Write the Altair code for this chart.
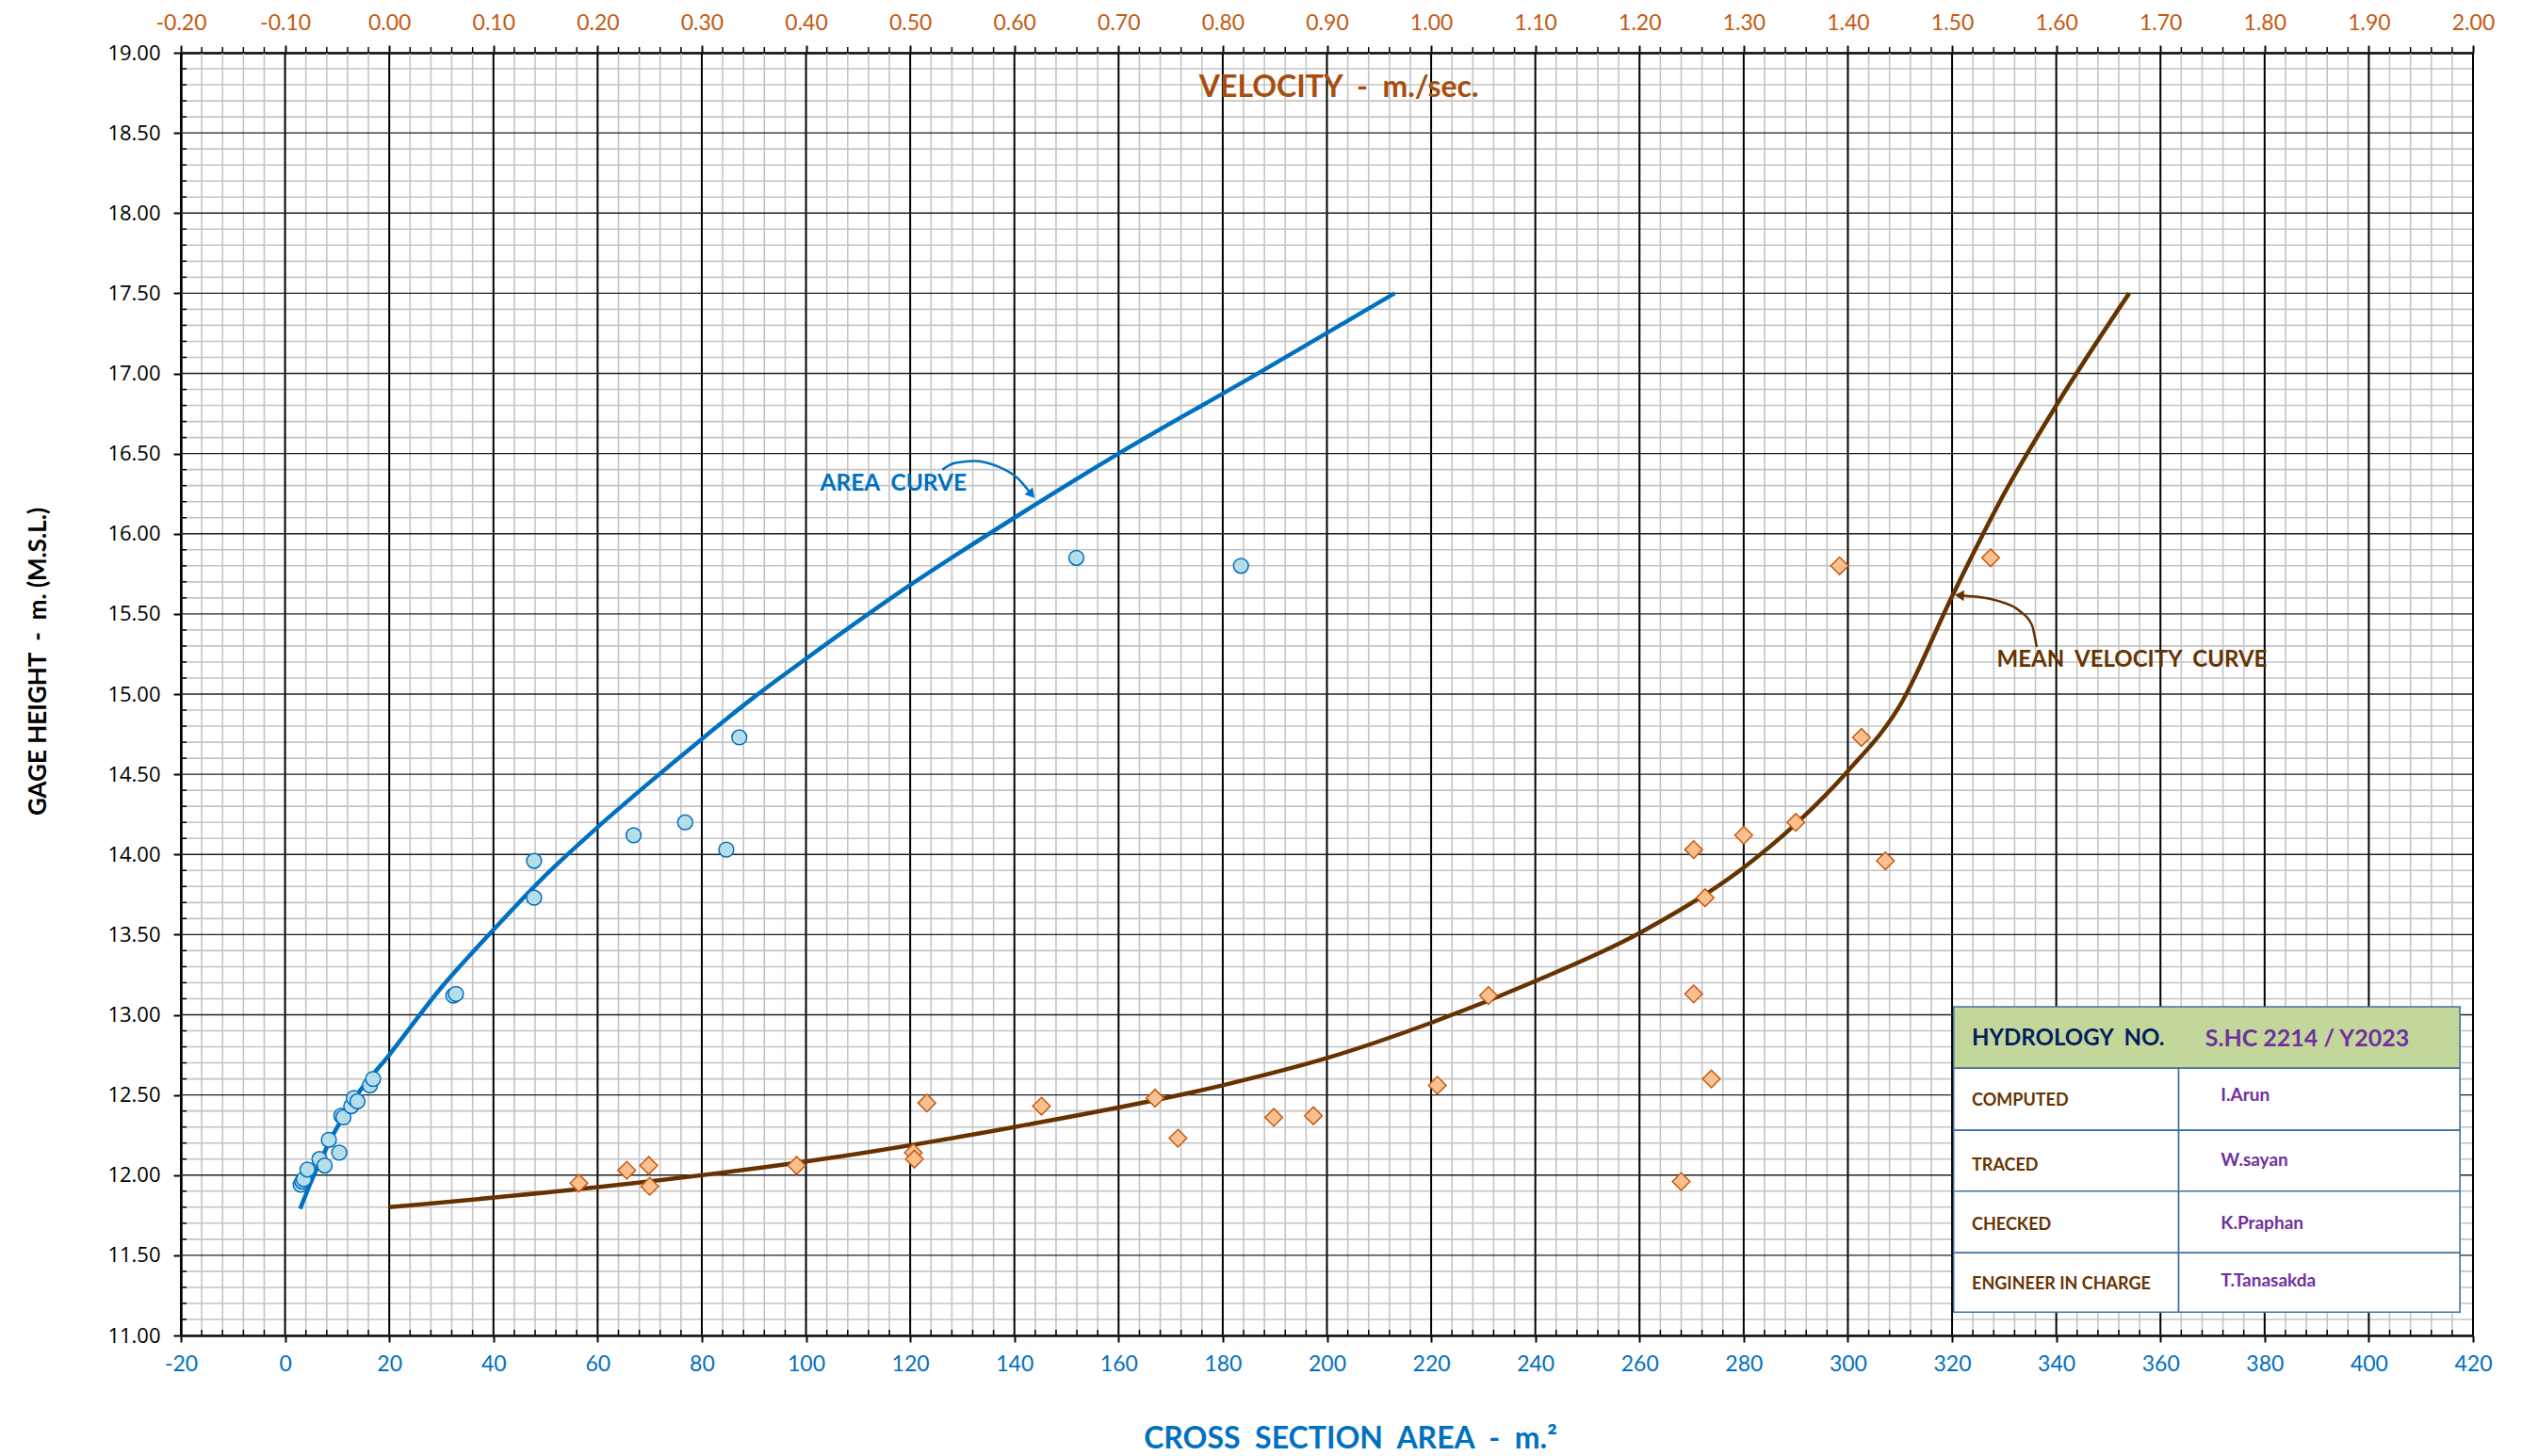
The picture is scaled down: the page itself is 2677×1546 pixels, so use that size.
import altair as alt
import pandas as pd

# ---------------- data ----------------
# Observed cross-section area (m^2) vs gage height (m)
AREA_OBS = [3.0, 3.3, 3.6, 4.3, 6.6, 7.6, 8.4, 10.4, 10.8, 11.2, 12.7, 13.2, 13.9,
            16.3, 16.9, 32.3, 32.8, 47.8, 47.8, 66.9, 76.8, 84.7, 87.2, 151.9, 183.5]
AREA_OBS_H = [11.94, 11.96, 11.975, 12.035, 12.10, 12.06, 12.22, 12.14, 12.37, 12.36, 12.43, 12.48, 12.46,
              12.56, 12.60, 13.12, 13.13, 13.73, 13.96, 14.12, 14.20, 14.03, 14.73, 15.85, 15.80]

# Observed mean velocity (m/s) vs gage height (m)
VEL_OBS = [0.182, 0.228, 0.249, 0.250, 0.391, 0.503, 0.504, 0.516, 0.626, 0.735, 0.757, 0.849, 0.887,
           1.006, 1.055, 1.240, 1.252, 1.252, 1.263, 1.269, 1.300, 1.350, 1.392, 1.413, 1.436, 1.537]
VEL_OBS_H = [11.95, 12.03, 12.06, 11.93, 12.06, 12.14, 12.10, 12.45, 12.43, 12.48, 12.23, 12.36, 12.37,
             12.56, 13.12, 11.96, 14.03, 13.13, 13.73, 12.60, 14.12, 14.20, 15.80, 14.73, 13.96, 15.85]

# Fitted area curve
AREA_CURVE = [2.9, 5.0, 8.4, 13.6, 20, 30, 40, 50, 60, 70, 80, 90, 100, 120, 140, 160, 185.7, 213]
AREA_CURVE_H = [11.79, 11.96, 12.20, 12.49, 12.75, 13.17, 13.53, 13.87, 14.17, 14.45, 14.72, 14.98,
                15.22, 15.68, 16.10, 16.50, 16.98, 17.50]

# Fitted mean velocity curve
VEL_CURVE = [0.0, 0.2, 0.4, 0.6, 0.8, 0.9, 1.0, 1.1, 1.2, 1.3, 1.35, 1.4, 1.45, 1.5, 1.55, 1.6, 1.67]
VEL_CURVE_H = [11.80, 11.925, 12.085, 12.30, 12.56, 12.73, 12.95, 13.21, 13.51, 13.918, 14.19, 14.52,
               14.93, 15.61, 16.25, 16.80, 17.50]

# Axis tick values
AREA_MAJOR = list(range(-20, 421, 20))
AREA_MINOR = list(range(-20, 421, 4))
VEL_TICKS = [round(-0.2 + 0.1 * i, 1) for i in range(23)]
HEIGHT_MAJOR = [round(11 + 0.5 * i, 1) for i in range(17)]
HEIGHT_MINOR = [round(11 + 0.1 * i, 1) for i in range(81)]

# Annotation arrows (in data units)
AREA_ARROW_A = [126.2, 128.5, 132.2, 136.8, 140.5, 143.3]
AREA_ARROW_H = [16.40, 16.44, 16.454, 16.42, 16.35, 16.245]
VEL_ARROW_V = [1.5812, 1.5766, 1.5646, 1.5436, 1.5225, 1.507]
VEL_ARROW_H = [15.294, 15.431, 15.52, 15.582, 15.608, 15.616]

# Title block
TABLE_X = [320.3, 363.5, 417.5]
TABLE_Y = [13.05, 12.667, 12.28, 11.90, 11.515, 11.145]
ROW_LABELS = ["COMPUTED", "TRACED", "CHECKED", "ENGINEER IN CHARGE"]
ROW_NAMES = ["I.Arun", "W.sayan", "K.Praphan", "T.Tanasakda"]
ROW_LABEL_H = [12.46, 12.06, 11.69, 11.32]
ROW_NAME_H = [12.50, 12.09, 11.70, 11.34]

# ---------------- styling ----------------
W, H = 2433, 1362
BLUE = "#0070c0"
BROWN = "#663300"
ORANGE_TXT = "#c55a11"
PURPLE = "#7030a0"
NAVY = "#002060"
CALIBRI = "Lato"
SP2 = "\u00a0 "  # a wide (double) gap that SVG does not collapse
HYPHEN_EXPR = "replace(datum.label, '\u2212', '-')"

XA = alt.Scale(domain=[-20, 420], nice=False, zero=False)
XV = alt.Scale(domain=[-0.2, 2.0], nice=False, zero=False)
YS = alt.Scale(domain=[11, 19], nice=False, zero=False)

Y_AXIS = alt.Axis(
    values=HEIGHT_MAJOR, format=".2f", grid=False,
    labelColor="black", labelFont="Open Sans", labelFontSize=22, labelPadding=14,
    labelFlush=False, labelOverlap=False,
    tickSize=8, tickColor="black", tickWidth=2,
    domainColor="black", domainWidth=2.5,
    title="GAGE HEIGHT" + SP2 + "-" + SP2 + "m. (M.S.L.)", titleFont=CALIBRI, titleFontSize=26,
    titleFontWeight="bold", titleColor="black", titleX=-152, titleY=646,
    titleAngle=270, titleAlign="center", titleBaseline="middle")


def xa(field="a"):
    return alt.X(f"{field}:Q", scale=XA, axis=None)


def xv(field="v"):
    return alt.X(f"{field}:Q", scale=XV, axis=None)


def yh(field="h"):
    return alt.Y(f"{field}:Q", scale=YS, axis=Y_AXIS)


# ---------------- grid ----------------
minor_a = pd.DataFrame({"a": [a for a in AREA_MINOR if a not in AREA_MAJOR]})
major_a = pd.DataFrame({"a": AREA_MAJOR})
minor_h = pd.DataFrame({"h": [h for h in HEIGHT_MINOR if h not in HEIGHT_MAJOR]})
major_h = pd.DataFrame({"h": HEIGHT_MAJOR})

g1 = alt.Chart(minor_a).mark_rule(color="#c4c4c4", strokeWidth=1.6).encode(x=xa())
g2 = alt.Chart(minor_h).mark_rule(color="#c4c4c4", strokeWidth=1.6).encode(y=yh())
g3 = alt.Chart(major_a).mark_rule(color="black", strokeWidth=2).encode(x=xa())
g4 = alt.Chart(major_h).mark_rule(color="#202020", strokeWidth=1.4).encode(y=yh())

# minor ticks
t_left = alt.Chart(minor_h).mark_rule(color="black", strokeWidth=1.5).encode(
    y=yh(), x=alt.value(0), x2=alt.value(6))
t_bottom = alt.Chart(minor_a).mark_rule(color="black", strokeWidth=1.5).encode(
    x=xa(), y=alt.value(H), y2=alt.value(H - 6))
t_top = alt.Chart(minor_a).mark_rule(color="black", strokeWidth=1.5).encode(
    x=xa(), y=alt.value(0), y2=alt.value(-6))

# ---------------- area curve + points ----------------
area_curve = alt.Chart(pd.DataFrame({"a": AREA_CURVE, "h": AREA_CURVE_H})).mark_line(
    color=BLUE, strokeWidth=4.5, interpolate="monotone").encode(x=xa(), y=yh())

area_pts = alt.Chart(pd.DataFrame({"a": AREA_OBS, "h": AREA_OBS_H})).mark_point(
    shape="circle", size=250, fill="#b7dee8", fillOpacity=1, stroke=BLUE, strokeWidth=1.5, opacity=1
).encode(
    x=alt.X("a:Q", scale=XA, axis=alt.Axis(
        orient="bottom", values=AREA_MAJOR, format="d", grid=False, labelExpr=HYPHEN_EXPR,
        labelColor=BLUE, labelFont=CALIBRI, labelFontSize=23, labelPadding=12,
        labelFlush=False, labelOverlap=False,
        tickSize=7, tickColor="black", tickWidth=2,
        domainColor="black", domainWidth=2.5,
        title="CROSS" + SP2 + "SECTION" + SP2 + "AREA" + SP2 + "-" + SP2 + "m.²",
        titleFont=CALIBRI, titleFontSize=32,
        titleFontWeight="bold", titleColor=BLUE, titleX=1241, titleY=119,
        titleAlign="center", titleBaseline="alphabetic")),
    y=yh(),
)

# ---------------- velocity curve + points ----------------
vel_curve = alt.Chart(pd.DataFrame({"v": VEL_CURVE, "h": VEL_CURVE_H})).mark_line(
    color=BROWN, strokeWidth=4.5, interpolate="monotone").encode(x=xv(), y=yh())

vel_pts = alt.Chart(pd.DataFrame({"v": VEL_OBS, "h": VEL_OBS_H})).mark_point(
    shape="diamond", size=350, fill="#fac090", fillOpacity=1, stroke="#c55a11", strokeWidth=1.5, opacity=1
).encode(
    x=alt.X("v:Q", scale=XV, title=None, axis=alt.Axis(
        orient="top", values=VEL_TICKS, format=".2f", grid=False, labelExpr=HYPHEN_EXPR,
        labelColor=ORANGE_TXT, labelFont=CALIBRI, labelFontSize=23, labelPadding=12,
        labelFlush=False, labelOverlap=False,
        tickSize=8, tickColor="black", tickWidth=2,
        domainColor="black", domainWidth=2.5)),
    y=yh(),
)

# ---------------- annotations ----------------
area_arrow = alt.Chart(pd.DataFrame({"a": AREA_ARROW_A, "h": AREA_ARROW_H})).mark_line(
    color=BLUE, strokeWidth=2.5, interpolate="monotone").encode(x=xa(), y=yh())
area_head = alt.Chart(pd.DataFrame({"a": [AREA_ARROW_A[-1]], "h": [AREA_ARROW_H[-1]]})).mark_point(
    shape="triangle-up", size=130, filled=True, color=BLUE, opacity=1, angle=140).encode(x=xa(), y=yh())
area_label = alt.Chart(pd.DataFrame({"a": [102.7], "h": [16.31], "t": ["AREA" + SP2 + "CURVE"]})).mark_text(
    align="left", baseline="middle", font=CALIBRI, fontSize=24.5, fontWeight="bold", color=BLUE
).encode(x=xa(), y=yh(), text="t:N")

vel_arrow = alt.Chart(pd.DataFrame({"v": VEL_ARROW_V, "h": VEL_ARROW_H})).mark_line(
    color=BROWN, strokeWidth=2.5, interpolate="monotone").encode(x=xv(), y=yh())
vel_head = alt.Chart(pd.DataFrame({"v": [VEL_ARROW_V[-1]], "h": [VEL_ARROW_H[-1]]})).mark_point(
    shape="triangle-up", size=130, filled=True, color=BROWN, opacity=1, angle=274).encode(x=xv(), y=yh())
vel_label = alt.Chart(pd.DataFrame({"v": [1.543], "h": [15.21],
                                    "t": ["MEAN" + SP2 + "VELOCITY" + SP2 + "CURVE"]})).mark_text(
    align="left", baseline="middle", font=CALIBRI, fontSize=24, fontWeight="bold", color=BROWN
).encode(x=xv(), y=yh(), text="t:N")

vel_title = alt.Chart(pd.DataFrame({"a": [202.3], "h": [18.78],
                                    "t": ["VELOCITY" + SP2 + "-" + SP2 + "m./sec."]})).mark_text(
    align="center", baseline="middle", font=CALIBRI, fontSize=32, fontWeight="bold", color="#a84d0e"
).encode(x=xa(), y=yh(), text="t:N")

# ---------------- title block ----------------
cells = [{"x0": TABLE_X[0], "x1": TABLE_X[2], "h": TABLE_Y[0], "y1": TABLE_Y[1], "f": "#c4d79b"}]
for i in range(4):
    for c in range(2):
        cells.append({"x0": TABLE_X[c], "x1": TABLE_X[c + 1], "h": TABLE_Y[i + 1],
                      "y1": TABLE_Y[i + 2], "f": "#ffffff"})
table = alt.Chart(pd.DataFrame(cells)).mark_rect(stroke="#41719c", strokeWidth=1.6).encode(
    x=alt.X("x0:Q", scale=XA, axis=None), x2="x1:Q",
    y=yh(), y2="y1:Q",
    fill=alt.Fill("f:N", scale=None))

texts = [{"a": 323.8, "h": 12.85, "t": "HYDROLOGY" + SP2 + "NO.", "c": NAVY, "s": 24},
         {"a": 368.6, "h": 12.85, "t": "S.HC 2214 / Y2023", "c": PURPLE, "s": 25}]
for lab, hl in zip(ROW_LABELS, ROW_LABEL_H):
    texts.append({"a": 323.8, "h": hl, "t": lab, "c": BROWN, "s": 18})
for nm, hn in zip(ROW_NAMES, ROW_NAME_H):
    texts.append({"a": 371.6, "h": hn, "t": nm, "c": PURPLE, "s": 19})
table_text = alt.Chart(pd.DataFrame(texts)).mark_text(
    align="left", baseline="middle", font=CALIBRI, fontWeight="bold").encode(
    x=xa(), y=yh(), text="t:N",
    color=alt.Color("c:N", scale=None), size=alt.Size("s:Q", scale=None))

chart = alt.layer(
    g1, g2, g3, g4, t_left, t_bottom, t_top,
    area_curve, area_pts, vel_curve, vel_pts,
    area_arrow, area_head, area_label, vel_arrow, vel_head, vel_label, vel_title,
    table, table_text,
).resolve_scale(x="independent").properties(
    width=W, height=H,
    autosize=alt.AutoSizeParams(type="none"),
    padding={"left": 184, "top": 48, "right": 28, "bottom": 128},
    background="white",
).configure_view(strokeWidth=0)

chart.save("out.html", embed_options={"renderer": "svg", "actions": False})
